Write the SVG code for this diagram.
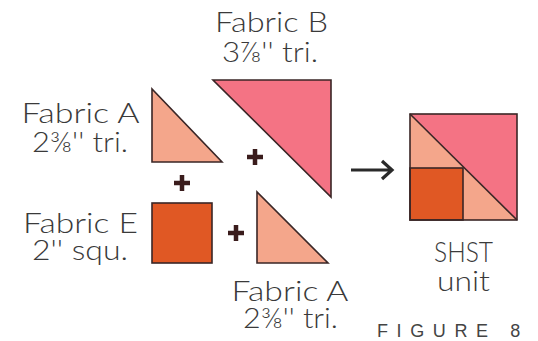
<svg xmlns="http://www.w3.org/2000/svg" width="538" height="341" viewBox="0 0 538 341">
<style>
.lbl{font-family:Lato,"Liberation Sans",sans-serif;font-weight:300;font-size:27px;fill:#3a3a3a;text-anchor:middle}
.edge{stroke:#3a2626;stroke-width:1.6;stroke-linejoin:miter}
.pA{fill:#f4a68b}
.pB{fill:#f47384}
.pE{fill:#e05824}
.plus{stroke:#3a1c1c;stroke-width:4.5;fill:none}
.fig{font-family:"Liberation Sans",sans-serif;font-size:18px;fill:#444;letter-spacing:8.6px}
</style>
<rect width="538" height="341" fill="#ffffff"/>
<g id="fabricB">
<polygon class="pB edge" points="213,80 331,80 331,197"/>
<text class="lbl" x="271.5" y="32" textLength="113" lengthAdjust="spacingAndGlyphs">Fabric B</text>
<text class="lbl" x="270" y="62" textLength="96" lengthAdjust="spacingAndGlyphs">3⅞'' tri.</text>
</g>
<g id="fabricA1">
<polygon class="pA edge" points="152,89 152,162 222,162"/>
<text class="lbl" x="80.5" y="123" textLength="118" lengthAdjust="spacingAndGlyphs">Fabric A</text>
<text class="lbl" x="80" y="152" textLength="96" lengthAdjust="spacingAndGlyphs">2⅜'' tri.</text>
</g>
<g id="fabricE">
<rect class="pE edge" x="152" y="203" width="60" height="60"/>
<text class="lbl" x="80.5" y="233" textLength="115" lengthAdjust="spacingAndGlyphs">Fabric E</text>
<text class="lbl" x="80" y="260" textLength="96" lengthAdjust="spacingAndGlyphs">2'' squ.</text>
</g>
<g id="fabricA2">
<polygon class="pA edge" points="257,192 257,263 328,263"/>
<text class="lbl" x="290" y="301" textLength="117" lengthAdjust="spacingAndGlyphs">Fabric A</text>
<text class="lbl" x="290.5" y="328" textLength="95" lengthAdjust="spacingAndGlyphs">2⅜'' tri.</text>
</g>
<g id="shst">
<polygon class="pA" points="410,114 410,220 517,220"/>
<polygon class="pB" points="410,114 517,114 517,220"/>
<rect class="pE edge" x="410" y="168" width="53" height="52"/>
<line class="edge" x1="410" y1="114" x2="517" y2="220"/>
<rect class="edge" x="410" y="114" width="107" height="106" fill="none"/>
<text class="lbl" x="463.5" y="262" textLength="59" lengthAdjust="spacingAndGlyphs">SHST</text>
<text class="lbl" x="463.5" y="291" textLength="53" lengthAdjust="spacingAndGlyphs">unit</text>
</g>
<g id="connectors">
<path class="plus" d="M247,157 H263 M255,149 V165"/>
<path class="plus" d="M174,183 H190 M182,175 V191"/>
<path class="plus" d="M228,233 H244 M236,225 V241"/>
<path d="M351,170 H391 M382,161 L392,170 L382,179" stroke="#2a2a2a" stroke-width="3.2" fill="none"/>
</g>
<text class="fig" x="377" y="337">FIGURE 8</text>
</svg>
